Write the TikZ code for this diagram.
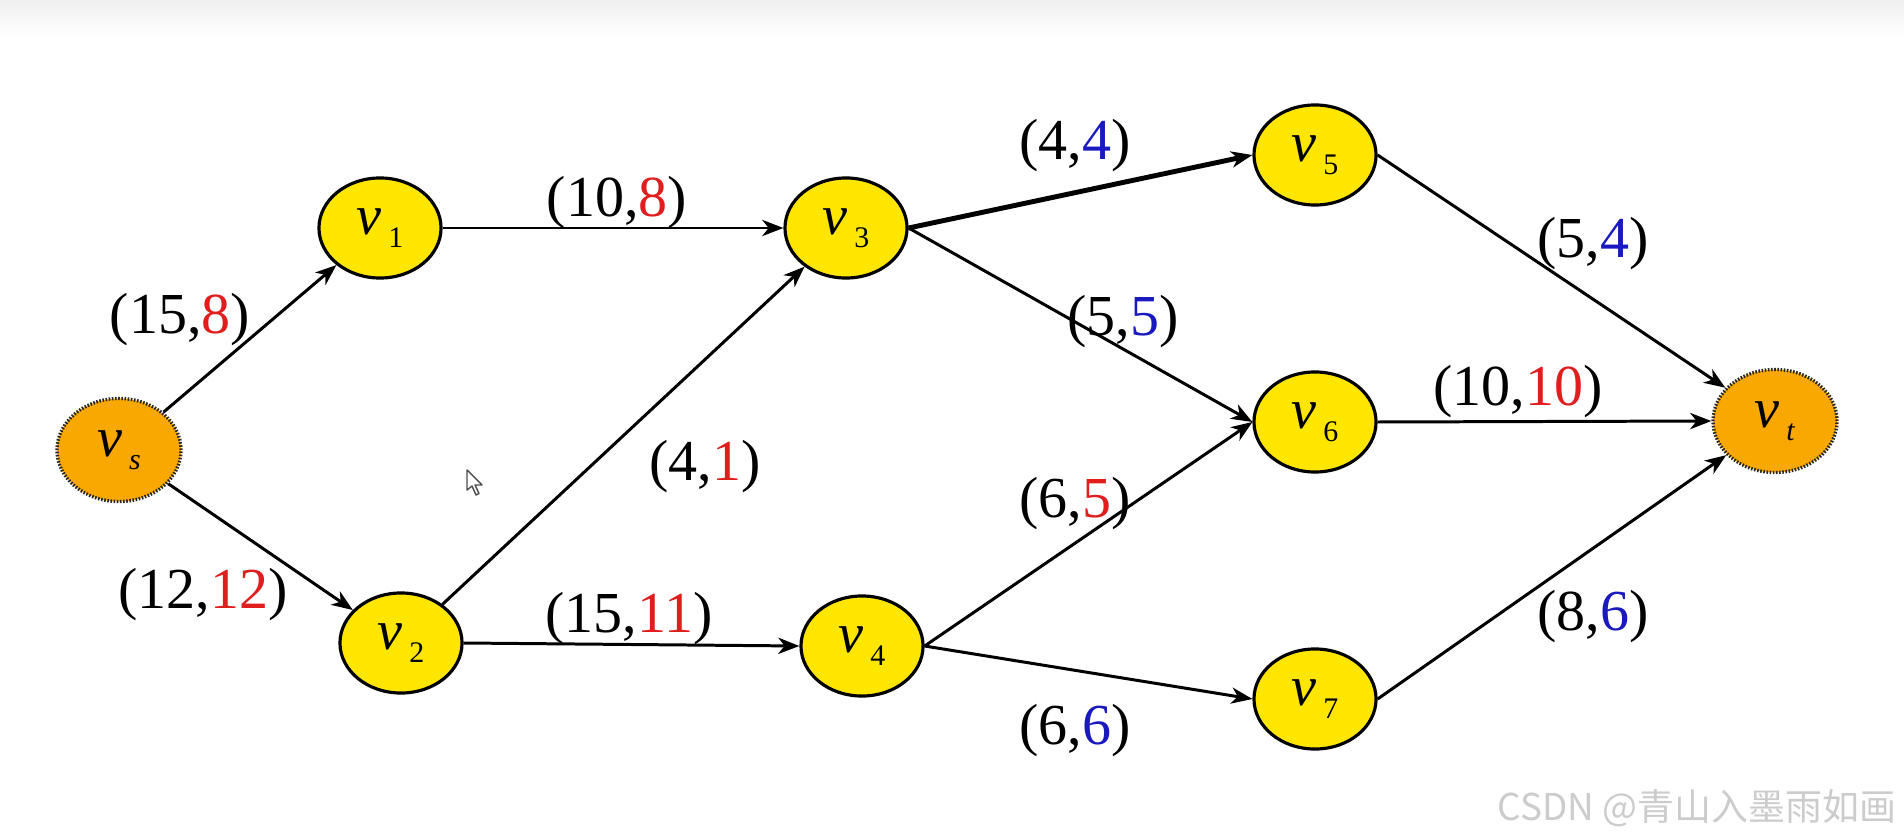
\documentclass[tikz,border=0pt]{standalone}
\usepackage{fontspec}
\setmainfont{Liberation Serif}
\newfontfamily\cjk{Noto Sans CJK SC}
\usetikzlibrary{arrows.meta,shapes.geometric}
\definecolor{nodey}{RGB}{255,230,0}
\definecolor{nodeo}{RGB}{248,168,0}
\definecolor{numred}{RGB}{225,30,30}
\definecolor{numblue}{RGB}{25,25,190}
\newcommand{\vlab}[1]{\textit{v}\kern0.12em\raisebox{-0.5ex}{\fontsize{8.5}{10}\selectfont #1}}
\newcommand{\flow}[3]{(#1,\textcolor{#3}{#2})}
\tikzset{
  vert/.style={ellipse, draw=black, line width=0.9pt, fill=nodey,
    minimum width=1.22cm, minimum height=1.0cm, inner sep=0pt,
    font=\fontsize{16}{19}\selectfont},
  term/.style={vert, fill=nodeo, draw=black!85, line width=0.95pt,
    dash pattern=on 0.45pt off 0.45pt, minimum width=1.24cm, minimum height=1.03cm},
  edge/.style={line width=0.85pt, -{Stealth[length=6pt,width=4.6pt,inset=1.8pt]}},
  bigedge/.style={edge, line width=1.4pt},
  lbl/.style={inner sep=0pt, font=\fontsize{16.5}{19}\selectfont}
}
\begin{document}
\begin{tikzpicture}[x=0.01cm,y=-0.01cm]
\useasboundingbox (0,0) rectangle (1904,840);
\fill[white] (0,0) rectangle (1904,840);
\shade[top color=black!6, bottom color=white] (0,0) rectangle (1904,38);

% nodes
\node[term] (vs) at (119,450) {\vlab{\textit{s}}};
\node[vert] (v1) at (380,228) {\vlab{1}};
\node[vert] (v2) at (401,643) {\vlab{2}};
\node[vert] (v3) at (846,228) {\vlab{3}};
\node[vert] (v4) at (862,646) {\vlab{4}};
\node[vert] (v5) at (1315,155) {\vlab{5}};
\node[vert] (v6) at (1315,422) {\vlab{6}};
\node[vert] (v7) at (1315,699) {\vlab{7}};
\node[term] (vt) at (1775,421) {\vlab{\textit{t}}};

% edges
\draw[edge] (vs) -- (v1);
\draw[edge] (vs) -- (v2);
\draw[edge] (v1.east) -- (v3.west);
\draw[edge] (v2) -- (v3);
\draw[edge] (v2.east) -- (v4.west);
\draw[bigedge] (v3.east) -- (v5.west);
\draw[edge] (v3.east) -- (v6.west);
\draw[edge] (v4.east) -- (v6.west);
\draw[edge] (v4.east) -- (v7.west);
\draw[edge] (v5.east) -- (vt);
\draw[edge] (v6.east) -- (vt.west);
\draw[edge] (v7.east) -- (vt);

% labels
\node[lbl] (l1) at (180,320) {\flow{15}{8}{numred}};
\node[lbl] (l2) at (203,595) {\flow{12}{12}{numred}};
\node[lbl] (l3) at (617,203) {\flow{10}{8}{numred}};
\node[lbl] (l4) at (705,467) {\flow{4}{1}{numred}};
\node[lbl] (l5) at (629,619) {\flow{15}{11}{numred}};
\node[lbl] (l6) at (1075,146) {\flow{4}{4}{numblue}};
\node[lbl] (l7) at (1123,322) {\flow{5}{5}{numblue}};
\node[lbl] (l8) at (1075,504) {\flow{6}{5}{numred}};
\node[lbl] (l9) at (1075,731) {\flow{6}{6}{numblue}};
\node[lbl] (l10) at (1593,244) {\flow{5}{4}{numblue}};
\node[lbl] (l11) at (1518,392) {\flow{10}{10}{numred}};
\node[lbl] (l12) at (1593,617) {\flow{8}{6}{numblue}};

% mouse cursor
\draw[black!70, line width=0.4pt, fill=white, line join=round]
  (467,470) -- ++(0,20) -- ++(5,-4) -- ++(4,9) -- ++(3,-1.5) -- ++(-4,-8.5) -- ++(7,0) -- cycle;

% watermark
\node[anchor=east, inner sep=0pt, text=white, font=\cjk\fontsize{10.5}{12}\selectfont] at (1898,809) {CSDN @青山入墨雨如画};
\node[anchor=east, inner sep=0pt, text=black!20, font=\cjk\fontsize{10.5}{12}\selectfont] (wm) at (1897,808) {CSDN @青山入墨雨如画};
\end{tikzpicture}
\end{document}
